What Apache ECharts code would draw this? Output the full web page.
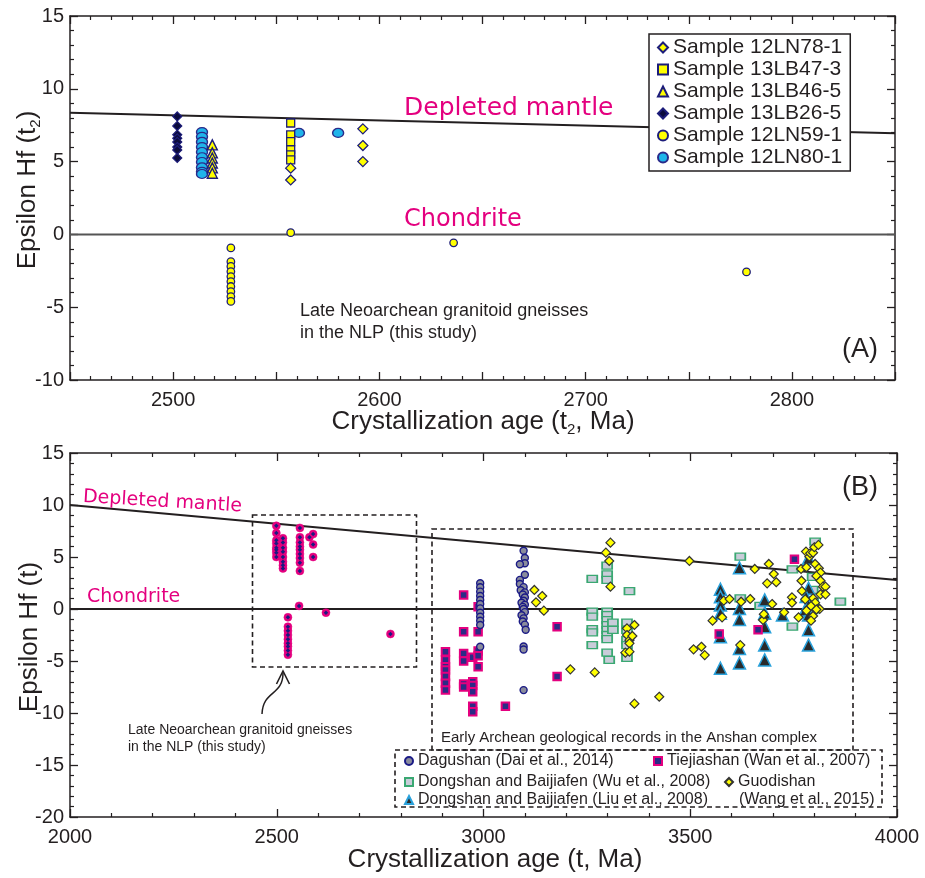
<!DOCTYPE html>
<html><head><meta charset="utf-8">
<script src="https://cdn.jsdelivr.net/npm/echarts@6/dist/echarts.min.js"></script>
<style>html,body{margin:0;padding:0;background:#fff}#c{width:925px;height:878px}</style>
</head><body><div id="c"></div>
<script>
// ---------- Panel A data (t2, Ma ; epsilon Hf) ----------
const dmA = [[2450, 8.35], [2850, 6.95]];
const chonA = [[2450, 0], [2850, 0]];
const s12LN78 = [[2557,4.55],[2557,3.74],[2592,7.25],[2592,6.1],[2592,5.0]];
const s13LB47 = [[2557,7.65],[2557,6.83],[2557,6.37],[2557,5.8],[2557,5.46],[2557,5.12]];
const s13LB46 = [[2519,6.15],[2519,5.6],[2519,5.25],[2519,4.9],[2519,4.57],[2519,4.2]];
const s13LB26 = [[2502,8.1],[2502,7.45],[2502,6.85],[2502,6.6],[2502,6.35],[2502,6.0],[2502,5.8],[2502,5.25]];
const s12LN59 = [[2528,-0.93],[2528,-1.87],[2528,-2.2],[2528,-2.55],[2528,-2.9],[2528,-3.24],[2528,-3.58],[2528,-3.93],[2528,-4.27],[2528,-4.6],[2557,0.12],[2636,-0.58],[2778,-2.58]];
const s12LN80 = [[2514,7.03],[2514,6.7],[2514,6.35],[2514,6.0],[2514,5.66],[2514,5.3],[2514,4.97],[2514,4.6],[2514,4.3],[2514,4.15],[2561,6.97],[2580,6.97]];
const namesA = ['Sample 12LN78-1','Sample 13LB47-3','Sample 13LB46-5','Sample 13LB26-5','Sample 12LN59-1','Sample 12LN80-1'];

// ---------- Panel B data (t, Ma ; epsilon Hf) ----------
const dmB = [[2000, 10], [4000, 2.8]];
const chonB = [[2000, 0], [4000, 0]];
const nlp = [[2499,8.0],[2499,7.3],[2499,6.6],[2499,6.3],[2499,5.9],[2499,5.7],[2499,5.4],[2499,5.0],
  [2515,6.8],[2515,6.4],[2515,5.9],[2515,5.5],[2515,5.0],[2515,4.55],[2515,4.2],[2515,3.9],
  [2556,7.8],[2556,6.9],[2556,6.4],[2556,6.0],[2556,5.7],[2556,5.3],[2556,4.9],[2556,4.45],[2556,3.66],
  [2579,6.9],[2588,7.2],[2588,6.2],[2588,5.0],
  [2554,0.3],[2527,-0.8],[2527,-1.7],[2527,-2.1],[2527,-2.5],[2527,-2.9],[2527,-3.3],[2527,-3.6],[2527,-4.0],[2527,-4.4],
  [2619,-0.35],[2775,-2.4]];
const dagushan = [[2992,2.47],[2992,2.09],[2992,1.67],[2992,1.25],[2992,0.87],[2992,0.48],[2992,0.06],[2992,-0.36],[2992,-0.74],[2992,-1.13],[2992,-1.54],[2992,-3.63],
  [3097,5.6],[3100,4.9],[3100,4.4],[3088,4.3],[3100,3.3],[3088,2.8],[3088,2.4],[3097,2.1],[3090,1.8],[3100,1.6],[3095,1.4],[3100,1.1],[3097,0.8],[3092,0.6],[3100,0.4],[3095,0.2],[3097,0.0],[3100,-0.3],[3092,-0.6],[3097,-0.9],[3095,-1.2],[3100,-1.5],[3102,-2.0],[3097,-3.6],[3097,-3.9],[3097,-7.8]];
const tiejiashan = [[2908,-4.1],[2908,-4.9],[2908,-5.55],[2908,-5.87],[2908,-6.5],[2908,-7.15],[2908,-7.8],
  [2952,1.35],[2952,-2.18],[2952,-4.27],[2952,-5.0],[2952,-7.2],[2952,-7.5],
  [2974,-4.65],[2974,-7.0],[2974,-7.35],[2974,-7.96],[2974,-9.34],[2974,-9.88],
  [2987,0.22],[2987,-2.18],[2987,-4.04],[2987,-4.5],[2987,-5.55],
  [3053,-9.34],[3178,-1.7],[3178,-6.5],[3570,-2.4],[3664,-2.0],[3752,4.78]];
const dongshanWu = [[3263,2.89],[3263,-0.26],[3263,-0.74],[3263,-1.93],[3263,-2.25],[3263,-3.47],
  [3299,4.17],[3299,3.34],[3299,2.79],[3299,-0.26],[3299,-0.6],[3299,-1.07],[3299,-1.54],[3299,-2.0],[3299,-2.5],[3299,-2.9],[3299,-4.2],
  [3313,-1.3],[3313,-2.0],[3304,-4.9],[3347,-1.3],[3347,-2.0],[3347,-3.0],[3347,-3.47],[3347,-4.7],[3353,1.73],
  [3621,5.03],[3621,1.03],[3669,0.29],[3747,3.82],[3747,-1.7],[3802,6.48],[3796,3.1],[3796,1.83],[3797,0.7],[3796,-0.1],[3863,0.7]];
const dongshanLiu = [[3573,1.9],[3573,1.18],[3573,0.38],[3573,-0.4],[3573,-2.66],[3573,-5.7],
  [3619,3.97],[3619,0.06],[3619,-1.0],[3619,-3.8],[3619,-5.2],
  [3680,0.87],[3680,-0.4],[3680,-1.7],[3680,-3.47],[3680,-4.9],[3723,-0.58],
  [3786,4.87],[3786,2.0],[3780,1.2],[3786,0.38],[3778,-0.1],[3786,-0.58],[3786,-2.0],[3786,-3.47]];
const guodishan = [[3307,6.38],[3296,5.42],[3304,4.62],[3307,2.15],[3123,1.83],[3142,1.25],[3127,0.64],[3146,-0.16],
  [3210,-5.8],[3269,-6.1],[3365,-9.1],[3365,-1.54],[3347,-1.86],[3347,-2.5],[3353,-3.0],[3360,-2.6],[3353,-3.3],[3343,-4.2],[3353,-4.1],
  [3425,-8.44],[3498,4.62],[3508,-3.88],[3527,-3.63],[3535,-4.43],[3554,-1.12],[3577,-0.8],[3581,0.8],[3595,0.96],[3623,0.7],[3621,-3.47],
  [3645,0.96],[3656,3.85],[3676,-1.06],[3678,-0.5],[3686,2.47],[3690,4.33],[3698,0.48],[3702,3.37],[3708,2.57],[3727,-0.32],
  [3746,1.12],[3746,0.6],[3762,-0.8],[3768,3.85],[3769,2.72],[3770,1.73],
  [3780,5.52],[3781,4.01],[3788,5.03],[3790,5.36],[3797,5.42],[3800,5.94],[3810,6.16],[3802,4.33],[3811,3.92],[3815,3.5],[3805,3.18],
  [3815,2.72],[3821,2.15],[3827,2.15],[3815,1.41],[3827,1.41],[3797,1.03],[3778,0.93],[3802,0.61],[3792,0.29],[3813,0.0],[3805,-0.05],
  [3781,-0.16],[3797,-0.67],[3792,-1.12]];
const namesB = ['Dagushan (Dai et al., 2014)','Tiejiashan (Wan et al., 2007)','Dongshan and Baijiafen (Wu et al., 2008)','Dongshan and Baijiafen (Liu et al., 2008)','Guodishan (Wang et al., 2015)'];

// ---------- chart ----------
const FONT = 'Liberation Sans';
const MAGFONT = 'DejaVu Sans';
const INK = '#231f20';
const MAG = '#e4007f';
const NAVY = '#1c1c7a';
const chart = echarts.init(document.getElementById('c'), null, {renderer: 'canvas'});

function xAx(grid, min, max, interval, pos, showLabel, fmt) {
  return {
    type: 'value', gridIndex: grid, min: min, max: max, interval: interval, position: pos,
    axisLine: {show: true, onZero: false, lineStyle: {color: INK, width: 1.5}},
    axisTick: {show: true, inside: true, length: 8, lineStyle: {color: INK, width: 1.3}},
    minorTick: {show: true, splitNumber: 5, length: 4, lineStyle: {color: INK, width: 1.2}},
    splitLine: {show: false},
    axisLabel: {show: showLabel, color: INK, fontSize: 20, fontFamily: FONT, margin: 10, formatter: fmt}
  };
}
function yAx(grid, min, max, interval, pos, showLabel) {
  return {
    type: 'value', gridIndex: grid, min: min, max: max, interval: interval, position: pos,
    axisLine: {show: true, onZero: false, lineStyle: {color: INK, width: 1.5}},
    axisTick: {show: true, inside: true, length: 8, lineStyle: {color: INK, width: 1.3}},
    minorTick: {show: true, splitNumber: 5, length: 4, lineStyle: {color: INK, width: 1.2}},
    splitLine: {show: false},
    axisLabel: {show: showLabel, color: INK, fontSize: 20, fontFamily: FONT, margin: 6, formatter: function (v) { return String(v); }}
  };
}
const fmtA = function (v) { return v % 100 === 0 ? String(v) : ''; };
const fmtB = function (v) { return String(v); };

function line(name, data, x, y, color, width) {
  return {type: 'line', name: name, data: data, xAxisIndex: x, yAxisIndex: y, symbol: 'none',
    lineStyle: {color: color, width: width}, silent: true, z: 1};
}
function sc(name, data, x, y, symbol, size, fill, border, bw, z) {
  return {type: 'scatter', name: name, data: data, xAxisIndex: x, yAxisIndex: y, symbol: symbol, symbolSize: size,
    itemStyle: {color: fill, borderColor: border, borderWidth: bw, opacity: 1}, z: z || 3};
}

const series = [
  line('dmA', dmA, 0, 0, INK, 2),
  line('chonA', chonA, 0, 0, '#555', 2),
  sc(namesA[4], s12LN59, 0, 0, 'circle', 7.5, '#ffff00', NAVY, 1.3, 3),
  sc(namesA[3], s13LB26, 0, 0, 'diamond', 9, '#0b0b3d', NAVY, 1.2, 3),
  sc(namesA[5], s12LN80, 0, 0, 'circle', [11, 9], '#1fb4ea', '#2a2a8a', 1.3, 3),
  sc(namesA[2], s13LB46, 0, 0, 'triangle', 10, '#ffff00', NAVY, 1.4, 4),
  sc(namesA[1], s13LB47, 0, 0, 'rect', 8, '#ffff00', NAVY, 1.3, 4),
  sc(namesA[0], s12LN78, 0, 0, 'diamond', 10, '#ffff00', NAVY, 1.3, 5),

  line('dmB', dmB, 2, 2, INK, 2),
  line('chonB', chonB, 2, 2, INK, 2),
  sc('NLP', nlp, 2, 2, 'circle', 8, MAG, MAG, 0.5, 3),
  sc('NLPc', nlp, 2, 2, 'diamond', 4.5, '#1a1a80', '#1a1a80', 0, 4),
  sc(namesB[2], dongshanWu, 2, 2, 'rect', [10, 7], '#c9ccd9', '#3aa872', 1.5, 3),
  sc(namesB[3], dongshanLiu, 2, 2, 'triangle', 12, '#2a2a2a', '#2aa2dc', 1.5, 4),
  sc(namesB[1], tiejiashan, 2, 2, 'rect', 7.5, '#2b2b86', MAG, 2, 5),
  sc(namesB[0], dagushan, 2, 2, 'circle', 7, '#8a8c9c', '#1a1a86', 1.4, 5),
  sc(namesB[4], guodishan, 2, 2, 'diamond', 9, '#ffff00', '#333333', 1.2, 6)
];

const legTxt = {color: INK, fontSize: 16, fontFamily: FONT};
const legendBase = {itemWidth: 8, itemHeight: 8, itemGap: 4, padding: 2, selectedMode: false, textStyle: legTxt, z: 60};

function txt(x, y, s, size, color, align, family, rot) {
  return {type: 'text', x: x, y: y, rotation: rot || 0, z: 50, silent: true,
    style: {text: s, fill: color, fontSize: size, fontFamily: family || FONT, align: align || 'left', verticalAlign: 'middle'}};
}
function richTxt(x, y, text, rot, big) {
  return {type: 'text', x: x, y: y, rotation: rot, z: 50, silent: true,
    style: {text: text, align: 'center', verticalAlign: 'middle', fill: INK, fontFamily: FONT, fontSize: big,
      rich: {a: {fontSize: big, fontFamily: FONT, fill: INK, lineHeight: 30, verticalAlign: 'middle'},
             s: {fontSize: 15, fontFamily: FONT, fill: INK, lineHeight: 30, verticalAlign: 'bottom', padding: [12, 0, 0, 0]}}}};
}
const dash = {stroke: INK, lineWidth: 1.6, lineDash: [5, 3.5], fill: null};

const option = {
  animation: false,
  backgroundColor: '#ffffff',
  grid: [
    {left: 70, top: 16, width: 825, height: 364},
    {left: 70, top: 453, width: 827, height: 364}
  ],
  xAxis: [
    xAx(0, 2450, 2850, 50, 'bottom', true, fmtA),
    xAx(0, 2450, 2850, 50, 'top', false, fmtA),
    xAx(1, 2000, 4000, 500, 'bottom', true, fmtB),
    xAx(1, 2000, 4000, 500, 'top', false, fmtB)
  ],
  yAxis: [
    yAx(0, -10, 15, 5, 'left', true),
    yAx(0, -10, 15, 5, 'right', false),
    yAx(1, -20, 15, 5, 'left', true),
    yAx(1, -20, 15, 5, 'right', false)
  ],
  legend: [
    Object.assign({}, legendBase, {data: namesA, orient: 'vertical', left: 649, top: 34, itemWidth: 10, itemHeight: 10,
      itemGap: 1, padding: [3, 8, 3, 8], borderColor: INK, borderWidth: 1.5, backgroundColor: '#fff',
      textStyle: {color: INK, fontSize: 21, fontFamily: FONT}}),
    Object.assign({}, legendBase, {data: [namesB[0]], left: 402, top: 751}),
    Object.assign({}, legendBase, {data: [namesB[1]], left: 651, top: 751}),
    Object.assign({}, legendBase, {data: [namesB[2], namesB[3]], orient: 'vertical', left: 402, top: 772, itemGap: 2}),
    Object.assign({}, legendBase, {data: [namesB[4]], left: 722, top: 772, formatter: function () { return 'Guodishan'; }})
  ],
  series: series,
  graphic: [
    richTxt(483, 422, '{a|Crystallization age (t}{s|2}{a|, Ma)}', 0, 26),
    richTxt(28, 190, '{a|Epsilon Hf (t}{s|2}{a|)}', Math.PI / 2, 26),
    richTxt(495, 860, '{a|Crystallization age (t, Ma)}', 0, 26),
    richTxt(30, 637, '{a|Epsilon Hf (t)}', Math.PI / 2, 26),
    txt(404, 108, 'Depleted mantle', 25, MAG, 'left', MAGFONT),
    txt(404, 220, 'Chondrite', 24, MAG, 'left', MAGFONT),
    txt(300, 311, 'Late Neoarchean granitoid gneisses', 18, INK),
    txt(300, 333, 'in the NLP (this study)', 18, INK),
    txt(878, 350, '(A)', 27, INK, 'right'),
    txt(83, 497, 'Depleted mantle', 19, MAG, 'left', MAGFONT, -0.06),
    txt(87, 597, 'Chondrite', 19, MAG, 'left', MAGFONT),
    txt(878, 488, '(B)', 27, INK, 'right'),
    txt(128, 730, 'Late Neoarchean granitoid gneisses', 14, INK),
    txt(128, 747, 'in the NLP (this study)', 14, INK),
    txt(441, 738, 'Early Archean geological records in the Anshan complex', 15, INK),
    txt(739, 800, '(Wang et al., 2015)', 16, INK),
    {type: 'rect', z: 40, silent: true, shape: {x: 252.5, y: 515, width: 164, height: 152}, style: dash},
    {type: 'rect', z: 40, silent: true, shape: {x: 432, y: 529, width: 421, height: 221}, style: dash},
    {type: 'rect', z: 40, silent: true, shape: {x: 395, y: 750, width: 487, height: 57}, style: dash},
    {type: 'bezierCurve', z: 40, silent: true, shape: {x1: 283, y1: 673, cpx1: 283, cpy1: 696, cpx2: 263, cpy2: 690, x2: 262, y2: 714}, style: {stroke: INK, lineWidth: 1.5, fill: null}},
    {type: 'polyline', z: 40, silent: true, shape: {points: [[276.5, 684], [283, 671], [289.5, 684]]}, style: {stroke: INK, lineWidth: 1.6, fill: null}}
  ]
};
chart.setOption(option);
</script></body></html>
